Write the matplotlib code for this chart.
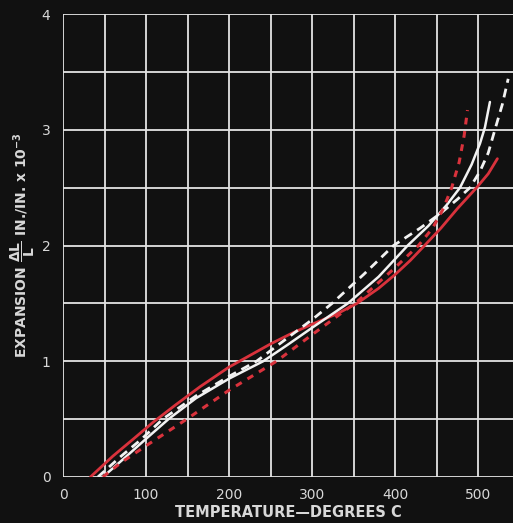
import matplotlib
matplotlib.use('Agg')
import matplotlib.pyplot as plt

# ------------------- dane ------------------------------------------
# czerwona ciagla
rs_t = [33, 60, 85, 108, 135, 165, 200, 230, 250, 275, 300, 330, 354, 380, 400, 418, 434, 455, 475, 498, 512, 523]
rs_e = [0, 0.18, 0.33, 0.47, 0.62, 0.78, 0.95, 1.07, 1.15, 1.24, 1.32, 1.41, 1.50, 1.63, 1.75, 1.87, 1.99, 2.15, 2.32, 2.5, 2.62, 2.75]

# biala ciagla
ws_t = [48, 75, 100, 127, 160, 200, 241, 270, 300, 343, 380, 415, 440, 462, 478, 492, 502, 508, 514]
ws_e = [0, 0.17, 0.33, 0.5, 0.68, 0.85, 1.0, 1.14, 1.29, 1.5, 1.73, 2.0, 2.17, 2.35, 2.5, 2.7, 2.88, 3.02, 3.24]

# biala przerywana
wd_t = [42, 70, 95, 120, 160, 200, 233, 270, 300, 324, 362, 398, 430, 455, 475, 490, 502, 512, 520, 529, 536]
wd_e = [0, 0.18, 0.33, 0.5, 0.70, 0.87, 1.0, 1.2, 1.36, 1.5, 1.75, 2.0, 2.15, 2.28, 2.4, 2.5, 2.64, 2.8, 3.0, 3.22, 3.44]

# czerwona przerywana
rd_t = [48, 69, 100, 149, 200, 257, 300, 355, 397, 428, 445, 458, 468, 477, 483, 487]
rd_e = [0, 0.12, 0.27, 0.5, 0.75, 1.0, 1.23, 1.52, 1.79, 2.0, 2.15, 2.32, 2.5, 2.72, 2.95, 3.17]

x_ticks = [0, 100, 200, 300, 400, 500]
y_ticks = [0, 1, 2, 3, 4]

bg = '#111111'
grid_c = '#e4e4e4'
red = '#d9323c'
white = '#f2f2f2'
txt = '#d8d8d8'

fig = plt.figure(figsize=(5.13, 5.23), dpi=100, facecolor=bg)
ax = fig.add_axes([63 / 513, 46 / 523, 450 / 513, 463 / 523])
ax.set_facecolor(bg)

ax.set_xlim(0, 541.8)
ax.set_ylim(0, 4)

# siatka co 50 stopni i co 0.5
for x in range(0, 551, 50):
    ax.axvline(x, color=grid_c, lw=1.3, zorder=1)
for y in [i * 0.5 for i in range(9)]:
    ax.axhline(y, color=grid_c, lw=1.3, zorder=1)

ax.plot(rs_t, rs_e, color=red, lw=2.0, zorder=3, solid_capstyle='round', solid_joinstyle='round')
ax.plot(ws_t, ws_e, color=white, lw=1.8, zorder=3, solid_capstyle='round', solid_joinstyle='round')
ax.plot(wd_t, wd_e, color=white, lw=2.0, zorder=4, linestyle=(0, (3.2, 2.2)))
ax.plot(rd_t, rd_e, color=red, lw=2.2, zorder=4, linestyle=(0, (2.2, 2.2)))

for s in ax.spines.values():
    s.set_visible(False)

ax.set_xticks(x_ticks)
ax.set_yticks(y_ticks)
ax.tick_params(length=0, colors=txt, labelsize=10)
ax.tick_params(axis='x', pad=8)
ax.tick_params(axis='y', pad=9)
for lab in ax.get_xticklabels() + ax.get_yticklabels():
    lab.set_color(txt)

ax.set_xlabel('TEMPERATURE\u2014DEGREES C', color=txt, fontsize=10.5, fontweight='bold', labelpad=2)
ax.set_ylabel(r'EXPANSION $\dfrac{\mathbf{\Delta L}}{\mathbf{L}}$ IN./IN. x 10$^{\mathbf{-3}}$',
              color=txt, fontsize=10, fontweight='bold', va='center')
# srodek etykiety ok. 23 px od lewej krawedzi
ax.yaxis.set_label_coords((23 - 63) / 450, 0.5)

fig.savefig('out.png', dpi=100, facecolor=bg)
